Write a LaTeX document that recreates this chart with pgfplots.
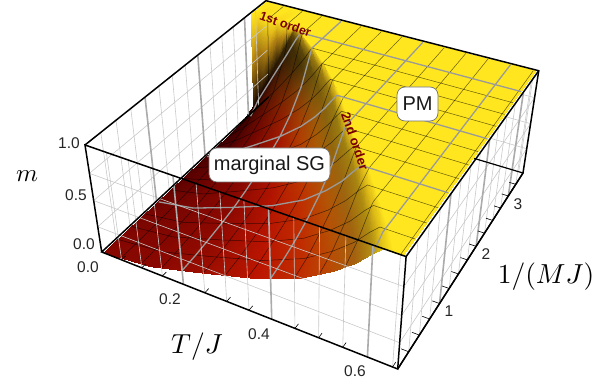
\documentclass[border=0pt]{standalone}
\usepackage{fontspec}
\setmainfont{Liberation Sans}
\usepackage{pgfplots}
\usepackage{pgfplotstable}
\pgfplotsset{compat=1.18}

% perspective of the box: T in 0..0.66, y=1/(MJ) in 0..3.5, m in 0..1, to picture pixels
\pgfkeys{/pgf/declare function={
  den(\u,\v,\w)=1-0.12256*\u+0.22341*\v-0.075*\w;
  px(\t,\y,\m)=(247.26*\t/0.66+226.79*\y/3.5-23.08*\m+101.7)/den(\t/0.66,\y/3.5,\m);
  py(\t,\y,\m)=382-(71.78*\t/0.66-133.33*\y/3.5-117.88*\m+252)/den(\t/0.66,\y/3.5,\m);
}}
\pgfkeys{/pgfplots/table/pr/.style={
  x expr={px(\thisrow{T},\thisrow{y},\thisrow{m})},
  y expr={py(\thisrow{T},\thisrow{y},\thisrow{m})}}}

% surface m(T,y) with the colour read from the shading at each vertex
\pgfplotstableread{
T y m r g b
.006 3.47 1 255 230 30
.025 3.47 1 255 230 30
.050 3.47 1 255 230 30
.075 3.47 1 255 230 30
.094 3.47 1 255 230 30
.106 3.47 1 255 230 30
.115 3.47 1 255 230 30
.121 3.47 1 255 230 30
.125 3.47 1 255 230 30
.129 3.47 1 255 230 30
.655 3.47 1 255 230 30
.006 3.10 1 255 230 30
.025 3.10 1 250 215 28
.050 3.10 1 255 230 30
.075 3.10 1 250 215 28
.094 3.10 1 255 230 30
.106 3.10 1 255 230 30
.115 3.10 1 255 230 30
.121 3.10 1 255 230 30
.125 3.10 1 255 230 30
.129 3.10 1 255 230 30
.655 3.10 1 255 230 30
.006 3.09 .55 190 140 20
.025 3.09 .64 160 115 18
.050 3.09 .73 195 145 20
.075 3.09 .82 165 120 18
.094 3.09 .89 195 145 20
.106 3.09 .93 205 165 22
.115 3.09 .96 220 185 24
.121 3.09 .99 235 205 26
.125 3.09 1 245 218 28
.129 3.09 1 255 230 30
.655 3.09 1 255 230 30
.006 3.08 0 15 0 0
.025 3.08 .20 20 5 0
.050 3.08 .40 30 15 3
.075 3.08 .60 40 25 5
.094 3.08 .75 50 35 5
.106 3.08 .85 60 42 6
.115 3.08 .92 90 68 10
.121 3.08 .97 150 120 16
.125 3.08 1 215 180 24
.129 3.08 1 255 230 30
.655 3.08 1 255 230 30
.006 3 0 25 0 0
.029 3 .20 30 0 0
.058 3 .40 45 12 2
.087 3 .60 50 25 5
.109 3 .75 50 32 5
.123 3 .85 60 42 6
.133 3 .92 90 68 10
.141 3 .97 150 120 16
.145 3 1 215 180 24
.149 3 1 255 230 30
.655 3 1 255 230 30
.006 2.75 0 40 0 0
.040 2.75 .176 60 3 0
.080 2.75 .366 85 15 0
.120 2.75 .558 95 35 3
.150 2.75 .71 80 45 5
.170 2.75 .82 70 50 7
.184 2.75 .90 90 70 10
.194 2.75 .964 150 120 16
.200 2.75 1 215 180 24
.206 2.75 1 255 230 30
.655 2.75 1 255 230 30
.006 2.5 0 50 0 0
.050 2.5 .154 70 2 0
.100 2.5 .336 105 12 0
.150 2.5 .52 125 35 0
.188 2.5 .674 125 60 5
.213 2.5 .792 105 72 10
.230 2.5 .883 105 82 12
.243 2.5 .958 150 120 16
.250 2.5 1 215 180 24
.258 2.5 1 255 230 30
.655 2.5 1 255 230 30
.006 2.25 0 60 0 0
.059 2.25 .134 80 2 0
.118 2.25 .308 115 8 0
.177 2.25 .486 145 30 0
.221 2.25 .641 150 62 4
.251 2.25 .767 135 85 10
.271 2.25 .868 120 90 12
.286 2.25 .953 150 120 16
.295 2.25 1 215 180 24
.304 2.25 1 255 230 30
.655 2.25 1 255 230 30
.006 2 0 70 0 0
.067 2 .117 90 2 0
.134 2 .283 125 7 0
.201 2 .455 160 25 0
.251 2 .611 170 62 3
.285 2 .744 155 88 8
.308 2 .853 135 98 14
.325 2 .948 150 120 16
.335 2 1 215 180 24
.345 2 1 255 230 30
.655 2 1 255 230 30
.006 1.75 0 80 0 0
.074 1.75 .101 100 3 0
.148 1.75 .261 130 7 0
.222 1.75 .428 168 20 0
.278 1.75 .585 178 62 2
.315 1.75 .725 165 90 6
.340 1.75 .841 140 100 14
.359 1.75 .944 150 122 16
.370 1.75 1 215 180 24
.381 1.75 1 255 230 30
.655 1.75 1 255 230 30
.006 1.5 0 90 1 0
.081 1.5 .088 110 4 0
.162 1.5 .243 132 7 0
.243 1.5 .405 172 20 0
.304 1.5 .563 185 60 0
.344 1.5 .708 172 90 5
.373 1.5 .83 145 102 14
.393 1.5 .94 155 125 16
.405 1.5 1 215 180 24
.417 1.5 1 255 230 30
.655 1.5 1 255 230 30
.006 1.25 0 100 3 0
.089 1.25 .076 118 5 0
.178 1.25 .227 135 8 0
.267 1.25 .385 175 20 0
.334 1.25 .544 188 55 0
.378 1.25 .693 175 88 5
.409 1.25 .821 150 103 14
.432 1.25 .937 160 128 16
.445 1.25 1 215 180 24
.458 1.25 1 255 230 30
.655 1.25 1 255 230 30
.006 1 0 110 4 0
.097 1 .067 125 6 0
.194 1 .213 138 8 0
.291 1 .369 180 20 0
.364 1 .528 190 50 0
.412 1 .681 178 85 5
.446 1 .813 155 102 15
.470 1 .934 165 130 16
.485 1 1 220 185 24
.500 1 1 255 230 30
.655 1 1 255 230 30
.006 .75 0 118 5 0
.104 .75 .059 128 7 0
.208 .75 .203 142 9 0
.312 .75 .356 182 20 0
.390 .75 .516 192 48 0
.442 .75 .672 180 82 5
.478 .75 .808 158 100 15
.504 .75 .933 170 135 16
.520 .75 1 225 190 24
.536 .75 1 255 230 30
.655 .75 1 255 230 30
.006 .5 0 125 6 0
.111 .5 .054 132 7 0
.222 .5 .196 146 10 0
.333 .5 .347 185 20 0
.416 .5 .507 192 46 0
.472 .5 .665 182 80 5
.511 .5 .803 160 100 15
.538 .5 .931 172 138 16
.555 .5 1 225 190 24
.572 .5 1 255 230 30
.655 .5 1 255 230 30
.006 .25 0 130 7 0
.118 .25 .05 136 8 0
.236 .25 .19 150 12 0
.354 .25 .34 186 22 0
.443 .25 .50 192 46 0
.502 .25 .66 184 78 5
.543 .25 .80 162 98 15
.572 .25 .93 175 140 18
.590 .25 1 228 195 24
.608 .25 1 255 230 30
.655 .25 1 255 230 30
.006 0 0 135 8 0
.124 0 .05 138 8 0
.248 0 .19 155 14 0
.372 0 .34 188 22 0
.465 0 .50 192 46 0
.527 0 .66 185 76 5
.570 0 .80 165 98 15
.601 0 .93 180 145 18
.620 0 1 230 200 24
.639 0 1 255 230 30
.655 0 1 255 230 30
}\surfdata

% mesh lines of constant T on the surface
\pgfplotstableread{
T y m
.05 0 .02
.05 .5 .024
.05 1 .034
.05 1.5 .054
.05 2 .087
.05 2.25 .113
.05 2.5 .154
.05 2.75 .224
.05 3 .345
.05 3.08 .40
.05 3.10 1
.05 3.47 1
.1 0 .04
.1 .5 .049
.1 1 .071
.1 1.25 .095
.1 1.5 .124
.1 1.75 .157
.1 2 .199
.1 2.25 .255
.1 2.5 .336
.1 2.75 .462
.1 3 .69
.1 3.08 .80
.1 3.10 1
.1 3.47 1
.15 0 .079
.15 .25 .088
.15 .5 .104
.15 .75 .122
.15 1 .147
.15 1.25 .179
.15 1.5 .22
.15 1.75 .265
.15 2 .324
.15 2.25 .404
.15 2.5 .52
.15 2.75 .71
.15 3 1
.15 3.47 1
.2 0 .136
.2 .25 .147
.2 .5 .168
.2 .75 .192
.2 1 .222
.2 1.25 .266
.2 1.5 .319
.2 1.75 .378
.2 2 .452
.2 2.25 .567
.2 2.5 .733
.2 2.75 1
.2 3.47 1
.25 0 .192
.25 .25 .208
.25 .5 .234
.25 .75 .265
.25 1 .303
.25 1.25 .355
.25 1.5 .423
.25 1.75 .508
.25 2 .607
.25 2.25 .763
.25 2.5 1
.25 3.47 1
.3 0 .253
.3 .25 .271
.3 .5 .302
.3 .75 .338
.3 1 .389
.3 1.25 .463
.3 1.5 .554
.3 1.75 .67
.3 2 .816
.3 2.25 1
.3 3.47 1
.35 0 .314
.35 .25 .335
.35 .5 .38
.35 .75 .434
.35 1 .498
.35 1.25 .599
.35 1.5 .732
.35 1.75 .895
.35 2 1
.35 3.47 1
.4 0 .388
.4 .25 .423
.4 .5 .476
.4 .75 .546
.4 1 .643
.4 1.25 .783
.4 1.5 .976
.4 1.55 1
.4 3.47 1
.45 0 .474
.45 .25 .521
.45 .5 .603
.45 .75 .699
.45 1 .832
.45 1.25 1
.45 3.47 1
.5 0 .59
.5 .25 .65
.5 .5 .766
.5 .75 .913
.5 1 1
.5 3.47 1
.55 0 .734
.55 .25 .831
.55 .5 .98
.55 .55 1
.55 3.47 1
.6 0 .925
.6 .2 1
.6 3.47 1
.65 0 1
.65 3.47 1
}\tlines

\definecolor{thickgrid}{HTML}{ABABAB}
\definecolor{thingrid}{HTML}{C9C9C9}
\definecolor{meshgray}{HTML}{9A9A9A}
\definecolor{ordertext}{HTML}{7A0000}
\tikzset{
  tk/.style={font=\fontsize{15.5}{15.5}\selectfont, inner sep=0pt, text=black!85},
  lab/.style={draw=black!55, line width=0.7pt, fill=white, rounded corners=8pt, inner sep=0pt,
    font=\fontsize{20}{20}\selectfont, text=black!90},
  ord/.style={font=\bfseries\fontsize{12.5}{12.5}\selectfont, inner sep=0pt, text=ordertext},
}

\begin{document}
\begin{tikzpicture}
\path[use as bounding box] (0,0) rectangle (599pt,382pt);
\begin{axis}[
  at={(0,0)}, anchor=south west,
  hide axis, scale only axis,
  width=599pt, height=382pt,
  xmin=0, xmax=599, ymin=0, ymax=382,
]
% walls behind the surface
\pgfplotsinvokeforeach{.05,.1,.15,.25,.3,.35,.45,.5,.55,.65}{
  \addplot[thingrid, line width=.6pt] table[pr, row sep=\\]{T y m\\#1 3.5 0\\#1 3.5 1\\};}
\pgfplotsinvokeforeach{.25,.5,.75}{
  \addplot[thingrid, line width=.6pt] table[pr, row sep=\\]{T y m\\0 3.5 #1\\.66 3.5 #1\\};
  \addplot[thingrid, line width=.6pt] table[pr, row sep=\\]{T y m\\.66 0 #1\\.66 3.5 #1\\};}
\pgfplotsinvokeforeach{.25,.5,.75,1.25,1.5,1.75,2.25,2.5,2.75,3.25}{
  \addplot[thingrid, line width=.6pt] table[pr, row sep=\\]{T y m\\.66 #1 0\\.66 #1 1\\};}
\pgfplotsinvokeforeach{1,2,3}{
  \addplot[thickgrid, line width=1.6pt] table[pr, row sep=\\]{T y m\\.66 #1 0\\.66 #1 1\\};}
\addplot[black, line width=1.2pt] table[pr, row sep=\\]{T y m\\0 3.5 0\\.66 3.5 0\\.66 0 0\\};
% surface
\addplot[surf, shader=interp, mesh/cols=11, mesh/rows=17,
  mesh/color input=explicit mathparse,
  point meta={symbolic={\thisrow{r}/255,\thisrow{g}/255,\thisrow{b}/255}}] table[pr] {\surfdata};
% thin mesh
\pgfplotsinvokeforeach{.25,.5,.75,1.25,1.5,1.75,2.25,2.5,2.75}{
  \addplot[black, opacity=.6, line width=.5pt] table[pr, restrict expr to domain={\thisrow{y}}{#1:#1}] {\surfdata};}
\pgfplotsinvokeforeach{.05,.1,.15,.25,.3,.35,.45,.5,.55,.65}{
  \addplot[black, opacity=.6, line width=.5pt] table[pr, restrict expr to domain={\thisrow{T}}{#1:#1}] {\tlines};}
% thick mesh
\pgfplotsinvokeforeach{1,2,3}{
  \addplot[meshgray, line width=1.3pt] table[pr, restrict expr to domain={\thisrow{y}}{#1:#1}] {\surfdata};}
\pgfplotsinvokeforeach{.2,.4,.6}{
  \addplot[meshgray, line width=1.3pt] table[pr, restrict expr to domain={\thisrow{T}}{#1:#1}] {\tlines};}
% left and front walls lie in front of the surface
\pgfplotsinvokeforeach{.25,.5,.75,1.25,1.5,1.75,2.25,2.5,2.75,3.25}{
  \addplot[thingrid, line width=.6pt] table[pr, row sep=\\]{T y m\\0 #1 0\\0 #1 1\\};}
\pgfplotsinvokeforeach{.05,.1,.15,.25,.3,.35,.45,.5,.55,.65}{
  \addplot[thingrid, line width=.6pt] table[pr, row sep=\\]{T y m\\#1 0 0\\#1 0 1\\};
  \addplot[black, line width=.6pt] table[pr, row sep=\\]{T y m\\#1 0 0\\#1 .07 0\\};}
\pgfplotsinvokeforeach{.25,.5,.75}{
  \addplot[thingrid, line width=.6pt] table[pr, row sep=\\]{T y m\\0 0 #1\\0 3.5 #1\\};
  \addplot[thingrid, line width=.6pt] table[pr, row sep=\\]{T y m\\0 0 #1\\.66 0 #1\\};}
\pgfplotsinvokeforeach{1,2,3}{
  \addplot[thickgrid, line width=1.6pt] table[pr, row sep=\\]{T y m\\0 #1 0\\0 #1 1\\};}
\pgfplotsinvokeforeach{.2,.4,.6}{
  \addplot[thickgrid, line width=1.6pt] table[pr, row sep=\\]{T y m\\#1 0 0\\#1 0 1\\};}
\pgfplotsinvokeforeach{.25,.5,.75,1,1.25,1.5,1.75,2,2.25,2.5,2.75,3,3.25}{
  \addplot[black, line width=.6pt] table[pr, row sep=\\]{T y m\\.66 #1 0\\.645 #1 0\\};}
% box edges
\addplot[black, line width=1.5pt] table[pr, row sep=\\]{T y m\\0 3.5 0\\0 0 0\\.66 0 0\\.66 0 1\\0 0 1\\0 0 0\\};
\addplot[black, line width=1.5pt] table[pr, row sep=\\]{T y m\\.66 0 0\\.66 3.5 0\\.66 3.5 1\\0 3.5 1\\0 0 1\\};
\addplot[black, line width=1.5pt] table[pr, row sep=\\]{T y m\\.66 0 1\\.66 3.5 1\\};
% text
\node[tk] at (axis cs:69,239) {1.0};
\node[tk] at (axis cs:76,187) {0.5};
\node[tk] at (axis cs:84,138) {0.0};
\node[tk] at (axis cs:88,115) {0.0};
\node[tk] at (axis cs:170,83) {0.2};
\node[tk] at (axis cs:259,48) {0.4};
\node[tk] at (axis cs:355,11) {0.6};
\node[tk] at (axis cs:449,71) {1};
\node[tk] at (axis cs:486,128) {2};
\node[tk] at (axis cs:518,178) {3};
\node[scale=2.5] at (axis cs:27,206) {$m$};
\node[scale=2.75] at (axis cs:197,35) {$T/J$};
\node[scale=2.75] at (axis cs:546,105) {$1/(MJ)$};
\node[ord, rotate=-19] at (axis cs:285.5,358) {1st order};
\node[ord, rotate=-71, font=\bfseries\fontsize{13}{13}\selectfont] at (axis cs:355,241) {2nd order};
\node[lab, minimum width=121pt, minimum height=34pt] at (axis cs:269.5,217) {marginal SG};
\node[lab, minimum width=41pt, minimum height=34pt] at (axis cs:417.5,278) {PM};
\end{axis}
\end{tikzpicture}
\end{document}
